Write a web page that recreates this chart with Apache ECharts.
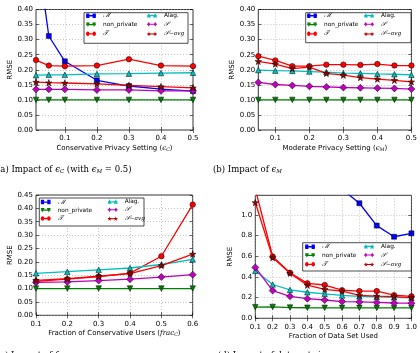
<!DOCTYPE html>
<html><head><meta charset="utf-8">
<script src="https://cdn.jsdelivr.net/npm/echarts@6/dist/echarts.min.js"></script>
<style>html,body{margin:0;padding:0;background:#fff}#c{width:420px;height:353px}</style>
</head><body><div id="c"></div>
<script>
// ---------- DATA ----------
const xA = [0.01, 0.05, 0.1, 0.2, 0.3, 0.4, 0.5];
const aM = [0.62, 0.312, 0.228, 0.165, 0.146, 0.136, 0.129];
const aNP = [0.1, 0.1, 0.1, 0.1, 0.1, 0.1, 0.1];
const aT = [0.232, 0.214, 0.212, 0.214, 0.235, 0.214, 0.212];
const aAlag = [0.182, 0.183, 0.183, 0.186, 0.187, 0.189, 0.19];
const aS = [0.135, 0.135, 0.135, 0.133, 0.133, 0.130, 0.130];
const aSavg = [0.159, 0.157, 0.156, 0.153, 0.148, 0.144, 0.140];

const xB = [0.05, 0.1, 0.15, 0.2, 0.25, 0.3, 0.35, 0.4, 0.45, 0.5];
const bM = [];
const bNP = [0.1, 0.1, 0.1, 0.1, 0.1, 0.1, 0.1, 0.1, 0.1, 0.1];
const bT = [0.245, 0.231, 0.212, 0.212, 0.217, 0.217, 0.216, 0.219, 0.214, 0.214];
const bAlag = [0.199, 0.197, 0.196, 0.194, 0.192, 0.189, 0.188, 0.186, 0.185, 0.183];
const bS = [0.158, 0.151, 0.148, 0.145, 0.143, 0.141, 0.140, 0.139, 0.138, 0.136];
const bSavg = [0.228, 0.219, 0.204, 0.209, 0.188, 0.182, 0.174, 0.169, 0.165, 0.160];

const xC = [0.1, 0.2, 0.3, 0.4, 0.5, 0.6];
const cM = [];
const cNP = [0.1, 0.1, 0.1, 0.1, 0.1, 0.1];
const cT = [0.127, 0.135, 0.145, 0.158, 0.221, 0.414];
const cAlag = [0.157, 0.163, 0.170, 0.177, 0.190, 0.209];
const cS = [0.123, 0.125, 0.130, 0.135, 0.143, 0.152];
const cSavg = [0.131, 0.137, 0.146, 0.156, 0.186, 0.229];

const xD = [0.1, 0.2, 0.3, 0.4, 0.5, 0.6, 0.7, 0.8, 0.9, 1.0];
const dM = [2.9, 2.4, 2.0, 1.75, 1.5, 1.25, 1.113, 0.897, 0.789, 0.822];
const dNP = [0.108, 0.11, 0.104, 0.102, 0.101, 0.101, 0.101, 0.1, 0.1, 0.1];
const dT = [1.25, 0.598, 0.441, 0.338, 0.322, 0.272, 0.263, 0.263, 0.224, 0.213];
const dAlag = [0.459, 0.327, 0.275, 0.252, 0.237, 0.221, 0.212, 0.208, 0.203, 0.199];
const dS = [0.492, 0.268, 0.213, 0.190, 0.177, 0.162, 0.158, 0.154, 0.148, 0.146];
const dSavg = [1.12, 0.587, 0.436, 0.320, 0.280, 0.262, 0.222, 0.215, 0.210, 0.200];

const ticksXA = [0.1, 0.2, 0.3, 0.4, 0.5];
const ticksXB = [0.1, 0.2, 0.3, 0.4, 0.5];
const ticksXC = [0.1, 0.2, 0.3, 0.4, 0.5, 0.6];
const ticksXD = [0.1, 0.2, 0.3, 0.4, 0.5, 0.6, 0.7, 0.8, 0.9, 1.0];
const ticksYA = [0, 0.05, 0.1, 0.15, 0.2, 0.25, 0.3, 0.35, 0.4];
const ticksYC = [0, 0.05, 0.1, 0.15, 0.2, 0.25, 0.3, 0.35, 0.4, 0.45];
const ticksYD = [0, 0.2, 0.4, 0.6, 0.8, 1.0];

const seriesNames = ['M', 'non_private', 'T', 'Alag.', 'S', 'S-avg'];

// ---------- STYLE ----------
function starPts(cx, cy, R, r) {
  const p = [];
  for (let i = 0; i < 10; i++) {
    const a = -Math.PI / 2 + i * Math.PI / 5, rr = i % 2 ? r : R;
    p.push((cx + rr * Math.cos(a)).toFixed(2) + ',' + (cy + rr * Math.sin(a)).toFixed(2));
  }
  return 'M' + p.join(' L') + ' Z';
}
const STAR = 'path://' + starPts(50, 52, 50, 20);
const STY = {
  'M': {color: '#0000ff', symbol: 'rect', size: 5, mk: 'sq'},
  'non_private': {color: '#008000', symbol: 'triangle', size: 5.5, rot: 180, mk: 'tdown'},
  'T': {color: '#ff0000', symbol: 'circle', size: 5.5, mk: 'circ'},
  'Alag.': {color: '#00bfbf', symbol: 'triangle', size: 5.5, mk: 'tup'},
  'S': {color: '#bf00bf', symbol: 'diamond', size: 7, mk: 'dia'},
  'S-avg': {color: '#ff0000', symbol: STAR, size: 6.5, fill: '#9a0000', mk: 'star', leg: '#c00000'}
};
// legend handle: line with a marker at each end (100 x 50 box)
function marker(kind, cx, cy, r) {
  switch (kind) {
    case 'sq': { const h = r * 0.8; return `M${cx - h},${cy - h} L${cx + h},${cy - h} L${cx + h},${cy + h} L${cx - h},${cy + h} Z`; }
    case 'circ': return `M${cx - r * 0.85},${cy} A${r * 0.85},${r * 0.85} 0 1,1 ${cx + r * 0.85},${cy} A${r * 0.85},${r * 0.85} 0 1,1 ${cx - r * 0.85},${cy} Z`;
    case 'tup': return `M${cx},${cy - r} L${cx + r},${cy + r * 0.8} L${cx - r},${cy + r * 0.8} Z`;
    case 'tdown': return `M${cx},${cy + r} L${cx - r},${cy - r * 0.8} L${cx + r},${cy - r * 0.8} Z`;
    case 'dia': return `M${cx},${cy - r} L${cx + r * 0.75},${cy} L${cx},${cy + r} L${cx - r * 0.75},${cy} Z`;
    case 'star': return starPts(cx, cy, r * 1.1, r * 0.45);
  }
}
function handle(kind) {
  const cy = 25, r = 20;
  return 'path://M0,' + (cy - 5) + ' L100,' + (cy - 5) + ' L100,' + (cy + 5) + ' L0,' + (cy + 5) + ' Z ' +
    marker(kind, 18, cy, r) + ' ' + marker(kind, 82, cy, r);
}
const SANS = 'DejaVu Sans';
const SERIF = 'DejaVu Serif';

const panels = [
  {xs: xA, data: [aM, aNP, aT, aAlag, aS, aSavg], grid: {left: 36, top: 9.5, width: 157, height: 120.5},
   xmin: 0.01, xmax: 0.5, xt: ticksXA, ymin: 0, ymax: 0.4, yt: ticksYA, yd: 2,
   xname: 'Conservative Privacy Setting ({e|ϵ}{s|C})',
   leg: {c1: 86, c2: 147, top: 12.3, gap: 2.5, box: [84, 12.7, 104, 30.6]}},
  {xs: xB, data: [bM, bNP, bT, bAlag, bS, bSavg], grid: {left: 258.3, top: 9.5, width: 156, height: 120.5},
   xmin: 0.05, xmax: 0.5, xt: ticksXB, ymin: 0, ymax: 0.4, yt: ticksYA, yd: 2,
   xname: 'Moderate Privacy Setting ({e|ϵ}{s|M})',
   leg: {c1: 307, c2: 364, top: 12.3, gap: 2.5, box: [305.7, 12.7, 105.3, 30]}},
  {xs: xC, data: [cM, cNP, cT, cAlag, cS, cSavg], grid: {left: 36, top: 195, width: 156.7, height: 120.3},
   xmin: 0.1, xmax: 0.6, xt: ticksXC, ymin: 0, ymax: 0.45, yt: ticksYC, yd: 2,
   xname: 'Fraction of Conservative Users ({e|frac}{s|C})',
   leg: {c1: 40.7, c2: 107.7, top: 198.6, gap: 1.7, box: [39.3, 198, 104.7, 28]}},
  {xs: xD, data: [dM, dNP, dT, dAlag, dS, dSavg], grid: {left: 255.3, top: 195.3, width: 158.7, height: 123},
   xmin: 0.1, xmax: 1.0, xt: ticksXD, ymin: 0, ymax: 1.19, yt: ticksYD, yd: 1,
   xname: 'Fraction of Data Set Used',
   leg: {c1: 305, c2: 364, top: 243.2, gap: 2.3, box: [302.7, 242.7, 108.6, 28.3]}}
];

const richMath = {
  e: {fontFamily: SERIF, fontStyle: 'italic', fontSize: 7, color: '#000'},
  s: {fontFamily: SERIF, fontStyle: 'italic', fontSize: 4.8, color: '#000', padding: [3, 0, 0, 0]}
};
const legendLabel = {
  'M': '{c|ℳ}', 'non_private': 'non_private', 'T': '{c|𝒯}', 'Alag.': 'Alag.', 'S': '{c|𝒮}', 'S-avg': '{c|𝒮}{i|−avg}'
};

const grids = [], xAxes = [], yAxes = [], series = [], legends = [], graphics = [];
const fmt = d => v => v.toFixed(d);
const legItem = n => ({name: n, icon: handle(STY[n].mk), itemStyle: {color: STY[n].leg || STY[n].color, borderWidth: 0}});

panels.forEach((p, g) => {
  grids.push(Object.assign({show: true, borderColor: '#000', borderWidth: 0.8, containLabel: false}, p.grid));
  const tickStyle = {show: true, inside: true, length: 3, lineStyle: {color: '#000', width: 0.6}};
  xAxes.push({
    type: 'value', gridIndex: g, position: 'bottom', min: p.xmin, max: p.xmax,
    axisLine: {show: false},
    axisTick: Object.assign({customValues: p.xt}, tickStyle),
    axisLabel: {customValues: p.xt, formatter: fmt(1), fontFamily: SANS, fontSize: 7, color: '#000', margin: 5},
    splitLine: {show: true, lineStyle: {color: '#9a9a9a', type: [1, 2], width: 0.6}},
    name: p.xname, nameLocation: 'middle', nameGap: 14,
    nameTextStyle: {fontFamily: SANS, fontSize: 7, color: '#000', rich: richMath}
  });
  yAxes.push({
    type: 'value', gridIndex: g, position: 'left', min: p.ymin, max: p.ymax,
    axisLine: {show: false},
    axisTick: Object.assign({customValues: p.yt}, tickStyle),
    axisLabel: {customValues: p.yt, formatter: fmt(p.yd), fontFamily: SANS, fontSize: 7, color: '#000', margin: 3},
    splitLine: {show: true, lineStyle: {color: '#9a9a9a', type: [1, 2], width: 0.6}},
    name: 'RMSE', nameLocation: 'middle', nameGap: 22, nameRotate: 90,
    nameTextStyle: {fontFamily: SANS, fontSize: 7, color: '#000'}
  });
  p.data.forEach((ys, k) => {
    const nm = seriesNames[k], st = STY[nm];
    series.push({
      type: 'line', name: nm, xAxisIndex: g, yAxisIndex: g,
      data: ys.map((v, i) => [p.xs[i], v]),
      symbol: st.symbol, symbolSize: st.size, symbolRotate: st.rot || 0,
      showAllSymbol: true, clip: true, animation: false,
      lineStyle: {color: st.color, width: 1.3},
      itemStyle: {color: st.fill || st.color, borderColor: '#000', borderWidth: 0.5},
      emphasis: {disabled: true}, z: 2 + k * 0.1
    });
  });
  const L = p.leg;
  const legBase = {
    orient: 'vertical', padding: 0, itemWidth: 10, itemHeight: 4.5, itemGap: L.gap, top: L.top,
    selectedMode: false, z: 6, symbolKeepAspect: false,
    formatter: n => legendLabel[n],
    textStyle: {fontFamily: SANS, fontSize: 5.8, color: '#000', padding: [0, 0, 0, 2],
      rich: {c: {fontFamily: SERIF, fontStyle: 'italic', fontSize: 6.5, color: '#000'},
             i: {fontFamily: SERIF, fontStyle: 'italic', fontSize: 5.8, color: '#000'}}}
  };
  legends.push(Object.assign({}, legBase, {left: L.c1, data: ['M', 'non_private', 'T'].map(legItem)}));
  legends.push(Object.assign({}, legBase, {left: L.c2, data: ['Alag.', 'S', 'S-avg'].map(legItem)}));
  graphics.push({type: 'rect', z: 5, shape: {x: L.box[0], y: L.box[1], width: L.box[2], height: L.box[3]},
    style: {fill: '#fff', stroke: '#000', lineWidth: 0.7}});
});

// secondary axes for ticks on top/right
panels.forEach((p, g) => {
  const tickStyle = {show: true, inside: true, length: 3, lineStyle: {color: '#000', width: 0.6}};
  xAxes.push({type: 'value', gridIndex: g, position: 'top', min: p.xmin, max: p.xmax,
    axisLine: {show: false}, axisTick: Object.assign({customValues: p.xt}, tickStyle),
    axisLabel: {show: false}, splitLine: {show: false}});
  yAxes.push({type: 'value', gridIndex: g, position: 'right', min: p.ymin, max: p.ymax,
    axisLine: {show: false}, axisTick: Object.assign({customValues: p.yt}, tickStyle),
    axisLabel: {show: false}, splitLine: {show: false}});
});

const capRich = {
  e: {fontFamily: SERIF, fontStyle: 'italic', fontSize: 8.5, fill: '#000'},
  s: {fontFamily: SERIF, fontStyle: 'italic', fontSize: 5.5, fill: '#000', padding: [4, 0, 0, 0]}
};
const captions = [
  {x: -3, y: 170, text: '(a) Impact of {e|ϵ}{s|C} (with {e|ϵ}{s|M} = 0.5)'},
  {x: 213, y: 170, text: '(b) Impact of {e|ϵ}{s|M}'},
  {x: -3, y: 356, text: '(c) Impact of {e|frac}{s|C}'},
  {x: 218, y: 356, text: '(d) Impact of data set size'}
];
captions.forEach(c => graphics.push({type: 'text', x: c.x, y: c.y, z: 5,
  style: {text: c.text, fontFamily: SERIF, fontSize: 8.5, fill: '#000', verticalAlign: 'middle', rich: capRich}}));

const chart = echarts.init(document.getElementById('c'), null, {renderer: 'canvas'});
chart.setOption({
  backgroundColor: '#fff', animation: false,
  grid: grids, xAxis: xAxes, yAxis: yAxes, series: series, legend: legends,
  graphic: {elements: graphics}
});
</script></body></html>
